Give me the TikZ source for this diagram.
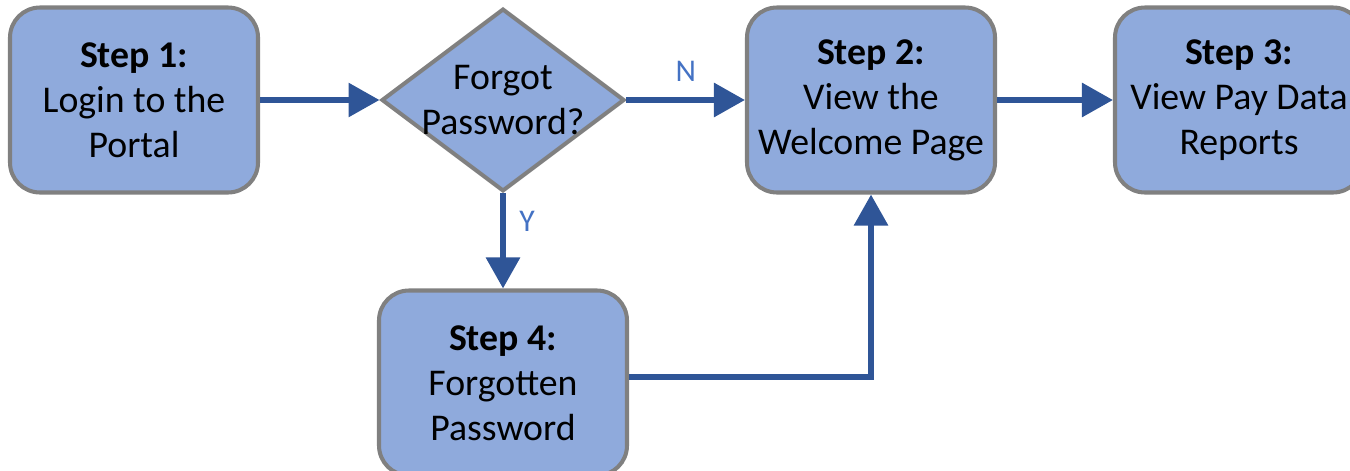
\documentclass[tikz,border=0pt]{standalone}
\usepackage{fontspec}
\setmainfont{Carlito}
\usepackage{tikz}
\usetikzlibrary{shapes.geometric,positioning,arrows.meta}
\definecolor{stepfill}{RGB}{143,170,220}
\definecolor{stepedge}{RGB}{128,128,128}
\definecolor{flow}{RGB}{47,85,151}
\definecolor{answer}{RGB}{68,114,196}

\begin{document}
\begin{tikzpicture}[
    box/.style={draw=stepedge, line width=2.3pt, fill=stepfill, rounded corners=0.6cm, minimum width=4.96cm, minimum height=3.7cm, align=center, font=\fontsize{21.5}{25.6}\selectfont},
    decision/.style={diamond, aspect=1.33, draw=stepedge, line width=2.3pt, fill=stepfill, minimum width=4.84cm, minimum height=3.64cm, inner sep=-1.5pt, align=center, font=\fontsize{21.5}{25.6}\selectfont},
    arrow/.style={-{Triangle[length=0.62cm, width=0.66cm]}, line width=3.4pt, flow},
    answerlabel/.style={font=\fontsize{18}{21}\selectfont, text=answer}
]
\useasboundingbox (0,0) rectangle (27,9.4);

% Top row
\node[box] (login) at (2.68,7.4) {\textbf{Step 1:}\\Login to the\\Portal};
\node[decision] (forgot) at (10.06,7.4) {Forgot\\Password?};
\node[box] (welcome) at (17.42,7.4) {\textbf{Step 2:}\\View the\\Welcome Page};
\node[box] (reports) at (24.78,7.4) {\textbf{Step 3:}\\View Pay Data\\Reports};

% Bottom row
\node[box] (reset) at (10.06,1.74) {\textbf{Step 4:}\\Forgotten\\Password};

% Connectors
\draw[arrow] (login) -- (forgot);
\draw[arrow] (forgot) -- node[answerlabel, above=0.2cm] {N} (welcome);
\draw[arrow] (welcome) -- (reports);
\draw[arrow] (forgot) -- node[answerlabel, right=0.15cm, yshift=0.4cm] {Y} (reset);
\draw[arrow] ([yshift=0.12cm]reset.east) -| (welcome.south);

\end{tikzpicture}
\end{document}
